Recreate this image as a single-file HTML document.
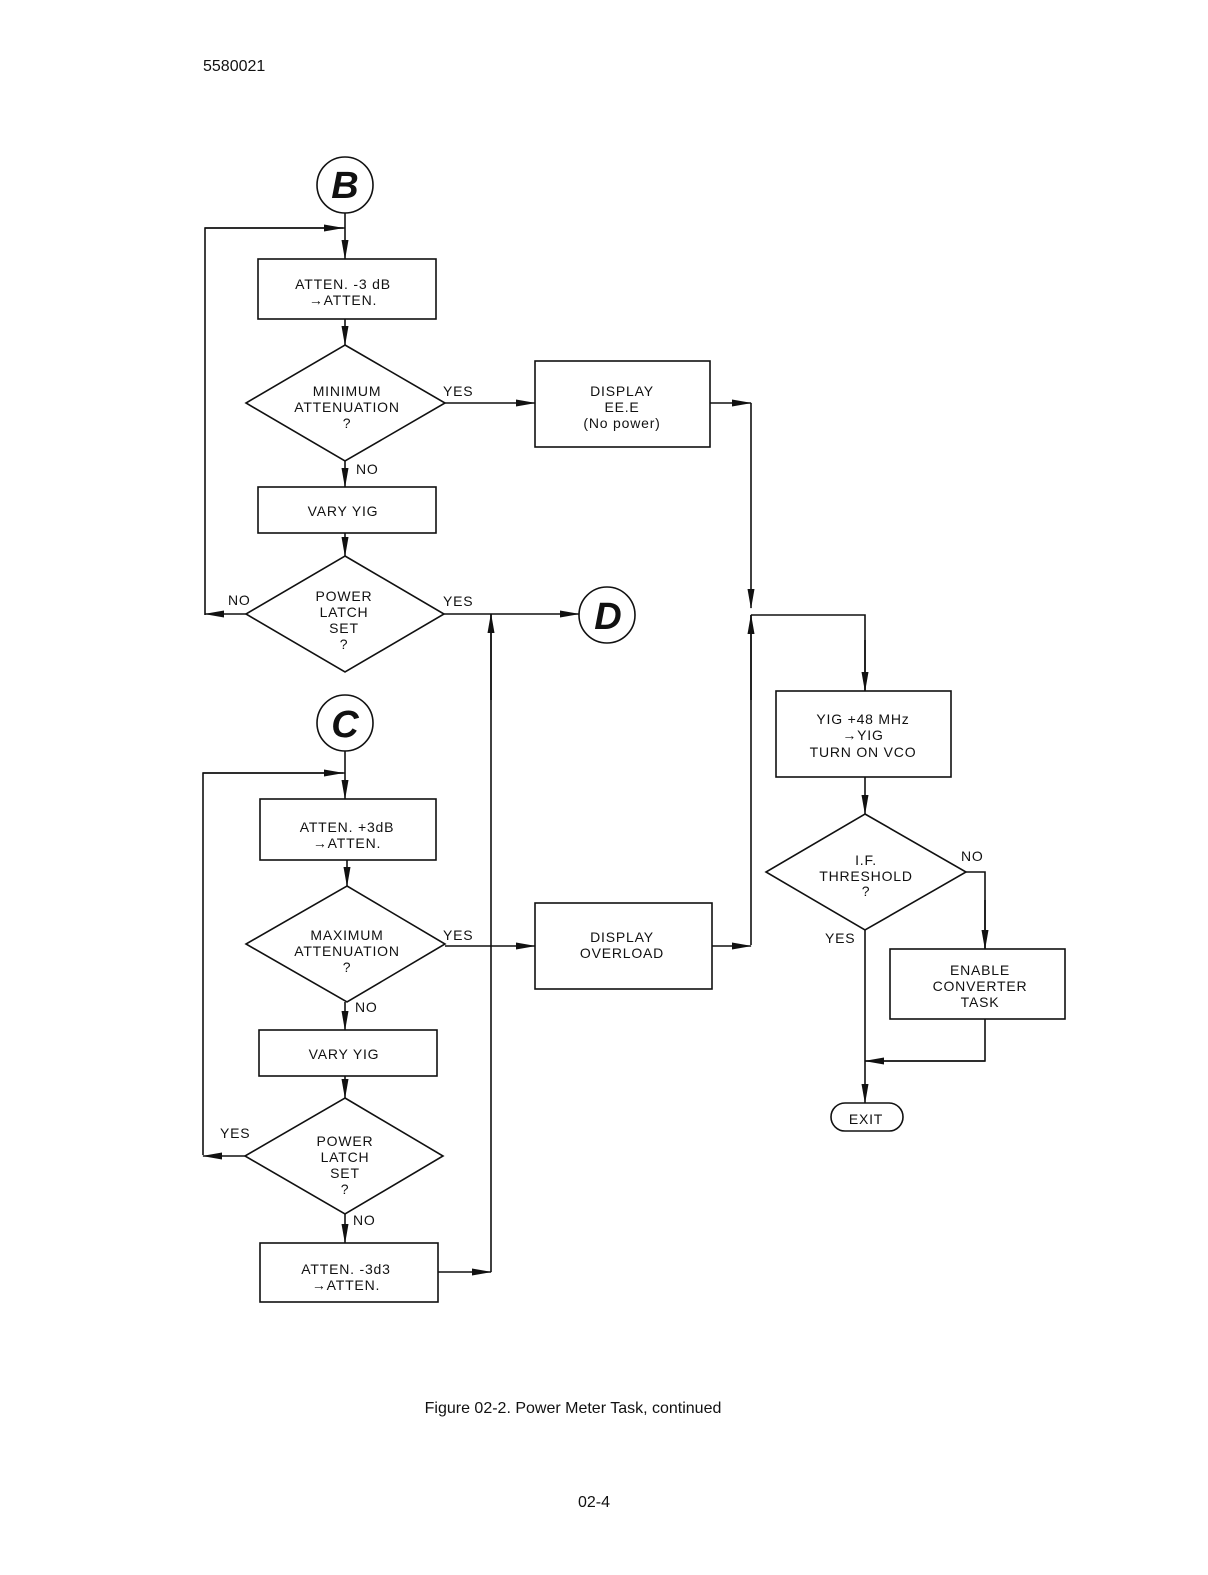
<!DOCTYPE html>
<html><head><style>
html,body{margin:0;padding:0;background:#fff;}
svg{display:block;}
text{font-family:"Liberation Sans",sans-serif;fill:#111;}
.t{font-size:14px;text-anchor:middle;letter-spacing:0.8px;}
.l{font-size:14px;letter-spacing:0.8px;}
</style></head><body>
<svg width="1208" height="1575" viewBox="0 0 1208 1575" xmlns="http://www.w3.org/2000/svg">
<defs>
<marker id="a" markerWidth="20" markerHeight="10" refX="19" refY="5" orient="auto" markerUnits="userSpaceOnUse">
<path d="M0,1.5 L20,5 L0,8.5 z" fill="#111"/>
</marker>
</defs>
<g stroke="#111" stroke-width="1.6" fill="none">
<!-- B -->
<circle cx="345" cy="185" r="28"/>
<line x1="345" y1="213" x2="345" y2="259" marker-end="url(#a)"/>
<polyline points="205,615 205,228 345,228"/>
<line x1="205" y1="228" x2="343" y2="228" marker-end="url(#a)"/>
<rect x="258" y="259" width="178" height="60"/>
<line x1="345" y1="319" x2="345" y2="345" marker-end="url(#a)"/>
<polygon points="345,345 445,403 345,461 246,403"/>
<line x1="445" y1="403" x2="535" y2="403" marker-end="url(#a)"/>
<rect x="535" y="361" width="175" height="86"/>
<line x1="710" y1="403" x2="751" y2="403" marker-end="url(#a)"/>
<line x1="751" y1="403" x2="751" y2="608" marker-end="url(#a)"/>
<line x1="345" y1="461" x2="345" y2="487" marker-end="url(#a)"/>
<rect x="258" y="487" width="178" height="46"/>
<line x1="345" y1="533" x2="345" y2="556" marker-end="url(#a)"/>
<polygon points="345,556 444,614 345,672 246,614"/>
<line x1="246" y1="614" x2="205" y2="614" marker-end="url(#a)"/>
<line x1="444" y1="614" x2="579" y2="614" marker-end="url(#a)"/>
<circle cx="607" cy="615" r="28"/>
<line x1="491" y1="1272" x2="491" y2="614"/>
<line x1="491" y1="700" x2="491" y2="614" marker-end="url(#a)"/>
<line x1="751" y1="945" x2="751" y2="615"/>
<line x1="751" y1="700" x2="751" y2="615" marker-end="url(#a)"/>
<polyline points="751,615 865,615 865,691"/>
<line x1="865" y1="640" x2="865" y2="691" marker-end="url(#a)"/>
<rect x="776" y="691" width="175" height="86"/>
<line x1="865" y1="777" x2="865" y2="814" marker-end="url(#a)"/>
<polygon points="865,814 966,872 865,930 766,872"/>
<polyline points="966,872 985,872 985,949"/>
<line x1="985" y1="900" x2="985" y2="949" marker-end="url(#a)"/>
<rect x="890" y="949" width="175" height="70"/>
<polyline points="985,1019 985,1061 865,1061"/>
<line x1="985" y1="1061" x2="865" y2="1061" marker-end="url(#a)"/>
<line x1="865" y1="930" x2="865" y2="1103" marker-end="url(#a)"/>
<rect x="831" y="1103" width="72" height="28" rx="14"/>
<!-- C -->
<circle cx="345" cy="723" r="28"/>
<line x1="345" y1="751" x2="345" y2="799" marker-end="url(#a)"/>
<polyline points="203,1155 203,773 345,773"/>
<line x1="203" y1="773" x2="343" y2="773" marker-end="url(#a)"/>
<rect x="260" y="799" width="176" height="61"/>
<line x1="347" y1="860" x2="347" y2="886" marker-end="url(#a)"/>
<polygon points="347,886 445,944 347,1002 246,944"/>
<line x1="445" y1="946" x2="535" y2="946" marker-end="url(#a)"/>
<rect x="535" y="903" width="177" height="86"/>
<line x1="712" y1="946" x2="751" y2="946" marker-end="url(#a)"/>
<line x1="345" y1="1002" x2="345" y2="1030" marker-end="url(#a)"/>
<rect x="259" y="1030" width="178" height="46"/>
<line x1="345" y1="1076" x2="345" y2="1098" marker-end="url(#a)"/>
<polygon points="345,1098 443,1156 345,1214 245,1156"/>
<line x1="245" y1="1156" x2="203" y2="1156" marker-end="url(#a)"/>
<line x1="345" y1="1214" x2="345" y2="1243" marker-end="url(#a)"/>
<rect x="260" y="1243" width="178" height="59"/>
<line x1="438" y1="1272" x2="491" y2="1272" marker-end="url(#a)"/>
</g>
<text x="203" y="71" style="font-size:16px">5580021</text>
<text x="345" y="198" text-anchor="middle" style="font-size:38px;font-weight:bold;font-style:italic">B</text>
<text x="608" y="629" text-anchor="middle" style="font-size:38px;font-weight:bold;font-style:italic">D</text>
<text x="345" y="737" text-anchor="middle" style="font-size:38px;font-weight:bold;font-style:italic">C</text>
<text class="t" x="343" y="289">ATTEN. -3 dB</text>
<text class="t" x="343" y="305">→ATTEN.</text>
<text class="t" x="347" y="396">MINIMUM</text>
<text class="t" x="347" y="412">ATTENUATION</text>
<text class="t" x="347" y="428">?</text>
<text class="l" x="443" y="396">YES</text>
<text class="t" x="622" y="396">DISPLAY</text>
<text class="t" x="622" y="412">EE.E</text>
<text class="t" x="622" y="428">(No power)</text>
<text class="l" x="356" y="474">NO</text>
<text class="t" x="343" y="516">VARY YIG</text>
<text class="t" x="344" y="601">POWER</text>
<text class="t" x="344" y="617">LATCH</text>
<text class="t" x="344" y="633">SET</text>
<text class="t" x="344" y="649">?</text>
<text class="l" x="228" y="605">NO</text>
<text class="l" x="443" y="606">YES</text>
<text class="t" x="863" y="724">YIG +48 MHz</text>
<text class="t" x="863" y="740">→YIG</text>
<text class="t" x="863" y="757">TURN ON VCO</text>
<text class="t" x="866" y="865">I.F.</text>
<text class="t" x="866" y="881">THRESHOLD</text>
<text class="t" x="866" y="896">?</text>
<text class="l" x="961" y="861">NO</text>
<text class="l" x="825" y="943">YES</text>
<text class="t" x="980" y="975">ENABLE</text>
<text class="t" x="980" y="991">CONVERTER</text>
<text class="t" x="980" y="1007">TASK</text>
<text class="t" x="866" y="1124">EXIT</text>
<text class="t" x="347" y="832">ATTEN. +3dB</text>
<text class="t" x="347" y="848">→ATTEN.</text>
<text class="t" x="347" y="940">MAXIMUM</text>
<text class="t" x="347" y="956">ATTENUATION</text>
<text class="t" x="347" y="972">?</text>
<text class="l" x="443" y="940">YES</text>
<text class="t" x="622" y="942">DISPLAY</text>
<text class="t" x="622" y="958">OVERLOAD</text>
<text class="l" x="355" y="1012">NO</text>
<text class="t" x="344" y="1059">VARY YIG</text>
<text class="t" x="345" y="1146">POWER</text>
<text class="t" x="345" y="1162">LATCH</text>
<text class="t" x="345" y="1178">SET</text>
<text class="t" x="345" y="1194">?</text>
<text class="l" x="220" y="1138">YES</text>
<text class="l" x="353" y="1225">NO</text>
<text class="t" x="346" y="1274">ATTEN. -3d3</text>
<text class="t" x="346" y="1290">→ATTEN.</text>
<text x="573" y="1413" text-anchor="middle" style="font-size:16px">Figure 02-2. Power Meter Task, continued</text>
<text x="594" y="1507" text-anchor="middle" style="font-size:16px">02-4</text>
</svg>
</body></html>
